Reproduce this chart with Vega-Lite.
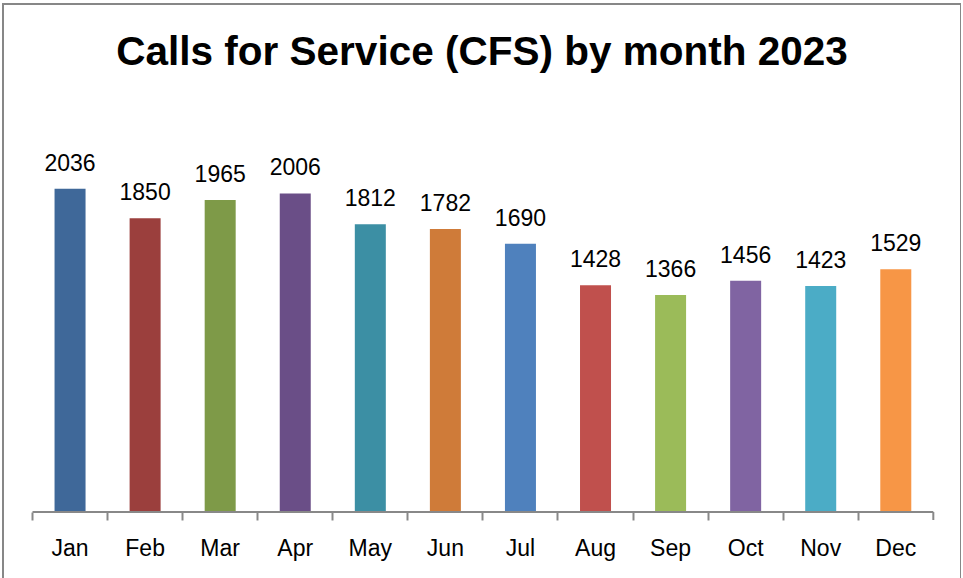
{
  "$schema": "https://vega.github.io/schema/vega-lite/v6.json",
  "width": 958,
  "height": 600,
  "autosize": {"type": "none"},
  "padding": {"left": 3, "top": 4, "right": 0, "bottom": 0},
  "background": "white",
  "title": {
    "text": "Calls for Service (CFS) by month 2023",
    "font": "Liberation Sans",
    "fontSize": 40.5,
    "fontWeight": "bold",
    "color": "black",
    "anchor": "middle",
    "baseline": "alphabetic",
    "offset": 0,
    "dy": 101
  },
  "config": {"view": {"stroke": "#878787", "strokeWidth": 2}},
  "data": {
    "values": [
      {"month": "Jan", "cfs": 2036},
      {"month": "Feb", "cfs": 1850},
      {"month": "Mar", "cfs": 1965},
      {"month": "Apr", "cfs": 2006},
      {"month": "May", "cfs": 1812},
      {"month": "Jun", "cfs": 1782},
      {"month": "Jul", "cfs": 1690},
      {"month": "Aug", "cfs": 1428},
      {"month": "Sep", "cfs": 1366},
      {"month": "Oct", "cfs": 1456},
      {"month": "Nov", "cfs": 1423},
      {"month": "Dec", "cfs": 1529}
    ]
  },
  "layer": [
    {
      "mark": {"type": "bar", "width": {"band": 0.413}},
      "encoding": {
        "x": {
          "field": "month",
          "type": "nominal",
          "sort": null,
          "scale": {"paddingInner": 0, "paddingOuter": 0.381, "align": 0.516},
          "axis": {
            "orient": "bottom",
            "offset": -92,
            "domain": false,
            "ticks": true,
            "bandPosition": 0,
            "tickSize": 8,
            "tickColor": "#888888",
            "tickWidth": 2,
            "labelFont": "Liberation Sans",
            "labelFontSize": 23,
            "labelColor": "black",
            "labelAngle": 0,
            "labelBaseline": "alphabetic",
            "labelPadding": 35,
            "title": null,
            "grid": false
          }
        },
        "y": {
          "field": "cfs",
          "type": "quantitative",
          "scale": {"domain": [-579, 3199], "nice": false, "zero": false},
          "axis": null
        },
        "y2": {"datum": 0},
        "color": {
          "field": "month",
          "type": "nominal",
          "sort": null,
          "scale": {
            "domain": ["Jan", "Feb", "Mar", "Apr", "May", "Jun", "Jul", "Aug", "Sep", "Oct", "Nov", "Dec"],
            "range": ["#3F6899", "#9B3F3D", "#7E9A48", "#6A4E87", "#3C8FA4", "#CF7B39", "#4F81BD", "#C0504D", "#9BBB59", "#8064A2", "#4BACC6", "#F79646"]
          },
          "legend": null
        }
      }
    },
    {
      "mark": {"type": "text", "dy": -18, "baseline": "alphabetic", "align": "center", "font": "Liberation Sans", "fontSize": 23, "color": "black"},
      "encoding": {
        "x": {"field": "month", "type": "nominal", "sort": null},
        "y": {"field": "cfs", "type": "quantitative"},
        "text": {"field": "cfs", "type": "quantitative", "format": "d"}
      }
    },
    {
      "data": {"values": [{}]},
      "mark": {"type": "rule", "color": "#888888", "strokeWidth": 2},
      "encoding": {
        "x": {"datum": "Jan", "type": "nominal", "bandPosition": 0},
        "x2": {"datum": "Dec", "bandPosition": 1},
        "y": {"datum": 0, "type": "quantitative"}
      }
    },
    {
      "data": {"values": [{}]},
      "mark": {"type": "rule", "color": "#888888", "strokeWidth": 2},
      "encoding": {
        "x": {"datum": "Dec", "type": "nominal", "bandPosition": 1},
        "y": {"datum": 0, "type": "quantitative"},
        "y2": {"datum": -50}
      }
    }
  ]
}
